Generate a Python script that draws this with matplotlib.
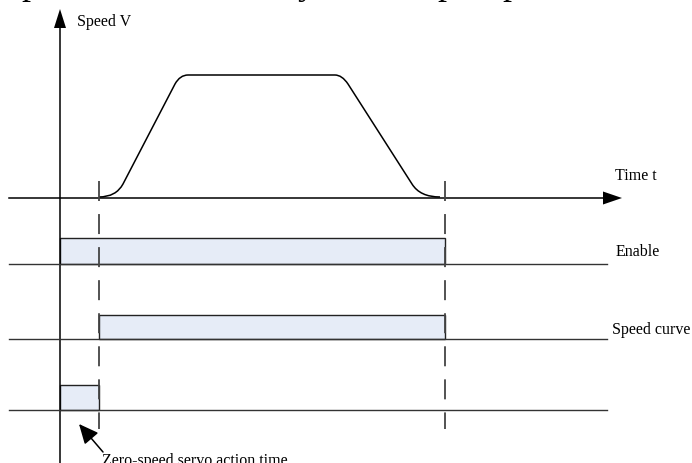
import numpy as np
import matplotlib
matplotlib.use("Agg")
from matplotlib import pyplot as plt
from matplotlib.path import Path
from matplotlib.patches import PathPatch, Polygon, Rectangle

plt.rcParams['font.family'] = ['Liberation Serif', 'DejaVu Serif']
plt.rcParams['lines.scale_dashes'] = False

# the canvas is laid out in pixel units (y grows downwards)
W, H = 692, 464

# speed profile: key points of the S-curve (x = time, y = speed level)
# codes: M = move, L = line, Q = quadratic corner (control point, end point)
speed_x = [99, 116, 123, 175, 180, 188, 335, 342, 348, 412, 420, 440]
speed_y = [198, 198, 185, 85, 76, 76, 76, 76, 85, 185, 198, 198]
speed_codes = ['M', 'Q', 'Q', 'L', 'Q', 'Q', 'L', 'Q', 'Q', 'L', 'Q', 'Q']

# time markers (dashed verticals)
t_start = 99
t_stop = 445
t_enable_on = 60

# signal rows: label, start, end, baseline y, bar top y
rows = ['Enable', 'Speed curve', '']
row_start = [t_enable_on, t_start, t_enable_on]
row_end = [t_stop, t_stop, t_start]
row_base = [265, 340, 411]
row_top = [239, 316, 386]
row_label_x = [616, 612, 0]
row_label_y = [252, 330, 0]

axis_x = 60
axis_y = 199

# cut-off glyphs of the text line above the figure (scan leftovers)
top_glyphs = ['p', 'y', 'p', 'p']
top_glyph_x = [21, 298, 437, 502]

fig = plt.figure(figsize=(W / 100, H / 100), dpi=100)
ax = fig.add_axes([0, 0, 1, 1])
ax.set_xlim(0, W)
ax.set_ylim(H, 0)
ax.axis('off')

for g, gx in zip(top_glyphs, top_glyph_x):
    ax.text(gx, -6, g, fontsize=26, va='baseline', ha='left')

# vertical speed axis with arrow head
ax.plot([axis_x, axis_x], [H + 5, 29], color='black', lw=1.1, solid_capstyle='butt')
ax.add_patch(Polygon([[axis_x - 6, 29], [axis_x + 6, 29], [axis_x, 10]],
                     closed=True, color='black', lw=0))
ax.text(77, 22, 'Speed V', fontsize=11.5, va='center', ha='left')

# horizontal time axis with arrow head
ax.plot([9, 604], [axis_y, axis_y], color='black', lw=1.1)
ax.add_patch(Polygon([[603, axis_y - 6.5], [603, axis_y + 6.5], [622, axis_y]],
                     closed=True, color='black', lw=0))
ax.text(615, 176, 'Time t', fontsize=11.5, va='center', ha='left')

# speed curve
cmap = {'M': Path.MOVETO, 'L': Path.LINETO, 'Q': Path.CURVE3}
path = Path(np.column_stack([speed_x, speed_y]), [cmap[c] for c in speed_codes])
ax.add_patch(PathPatch(path, fill=False, edgecolor='black', lw=1.1))

# signal rows
for label, x0, x1, yb, yt, lx, ly in zip(rows, row_start, row_end, row_base,
                                          row_top, row_label_x, row_label_y):
    ax.add_patch(Rectangle((x0, yt), x1 - x0, yb - yt, facecolor='#e6ecf7',
                           edgecolor='#222222', lw=1.0))
    ax.plot([9, 607], [yb, yb], color='#333333', lw=1.0)
    if label:
        ax.text(lx, ly, label, fontsize=11.5, va='center', ha='left')

# dashed time markers
for tx in [t_start, t_stop]:
    ax.plot([tx, tx], [182, 430], color='#444444', lw=1.3,
            linestyle=(0, (14.4, 9.4)))

# zero-speed servo annotation
ax.annotate('', xy=(79, 425), xytext=(103, 453),
            arrowprops=dict(arrowstyle='-|>,head_length=1.2,head_width=0.55',
                            color='black', lw=1.1, shrinkA=0, shrinkB=0))
ax.text(102, 465, 'Zero-speed servo action time', fontsize=11.5,
        va='baseline', ha='left')

fig.savefig('out.png', dpi=100)
